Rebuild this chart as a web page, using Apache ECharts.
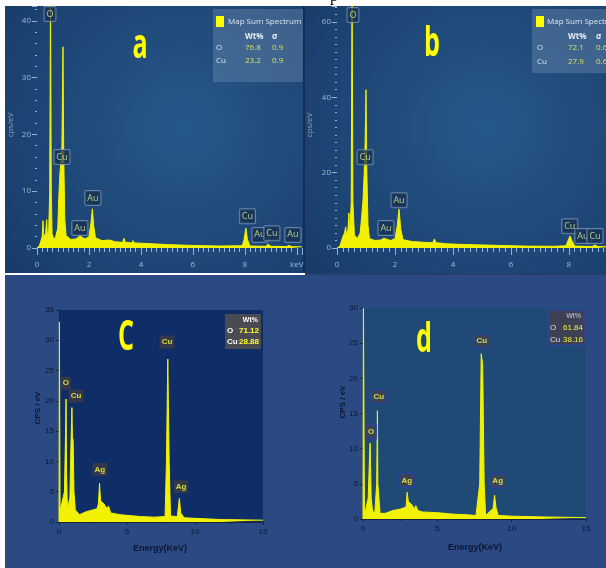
<!DOCTYPE html>
<html><head><meta charset="utf-8">
<script src="https://cdn.jsdelivr.net/npm/echarts@6/dist/echarts.min.js"></script>
<style>html,body{margin:0;padding:0;background:#fff}#c{width:606px;height:568px}</style>
</head><body><div id="c"></div>
<script>
// ---- spectra: [energy keV, counts] ----
const specA = [[0,0],[0.1,0.5],[0.2,2],[0.23,4.8],[0.26,2],[0.33,2.5],[0.37,5],[0.4,2],[0.45,3],[0.49,10],[0.52,45],[0.55,10],[0.58,2.5],[0.65,1.5],[0.72,2],[0.8,3.5],[0.84,9],[0.88,13],[0.92,15],[0.96,18],[1.0,35.4],[1.03,16],[1.07,5],[1.12,2.2],[1.3,1.5],[1.5,1.6],[1.65,2.1],[1.72,2.0],[1.85,1.6],[2.0,2.0],[2.08,4.5],[2.13,6.9],[2.18,4],[2.25,1.8],[2.5,1.3],[2.8,1.4],[3.0,1.1],[3.3,1.0],[3.35,1.7],[3.4,1.0],[3.65,0.9],[3.7,1.3],[3.75,0.9],[4.2,0.8],[5,0.6],[6,0.45],[7,0.35],[7.9,0.4],[7.97,1.5],[8.04,3.5],[8.1,1.5],[8.2,0.35],[8.8,0.3],[8.9,0.65],[9.0,0.3],[9.6,0.25],[9.7,0.45],[9.8,0.25],[10.2,0.2]];
const specB = [[0,0],[0.1,0.5],[0.2,3],[0.26,4],[0.3,5.6],[0.33,3],[0.38,5],[0.41,9.3],[0.44,4],[0.49,12],[0.52,70],[0.55,12],[0.6,3.5],[0.7,2.5],[0.8,4],[0.86,9],[0.9,13],[0.94,20],[0.97,28],[1.0,42],[1.03,20],[1.07,6],[1.12,2.5],[1.3,2.0],[1.5,2.1],[1.62,2.6],[1.7,2.4],[1.85,2.0],[2.0,2.5],[2.08,6],[2.14,10.3],[2.2,5],[2.28,2.2],[2.6,1.7],[3.0,1.5],[3.3,1.4],[3.36,2.4],[3.42,1.4],[3.7,1.2],[3.75,1.6],[3.8,1.1],[4.5,0.9],[5.5,0.7],[6.5,0.5],[7.5,0.45],[7.9,0.6],[7.97,2],[8.04,3.2],[8.1,2],[8.2,0.5],[8.8,0.4],[8.9,0.8],[9.0,0.4],[9.3,0.3]];
const specC = [[0,0],[0.03,33],[0.08,2],[0.2,3],[0.3,4],[0.4,5],[0.46,12],[0.52,20.3],[0.56,8],[0.62,2],[0.7,3],[0.8,4],[0.88,13],[0.95,18.9],[0.99,14],[1.04,13.5],[1.1,5],[1.2,2],[1.5,1.2],[2.0,1.7],[2.5,2.0],[2.8,2.2],[2.9,3],[2.98,6.4],[3.06,3.5],[3.3,3],[3.5,2.3],[3.65,2.6],[3.8,1.5],[4.5,1.2],[5,1.1],[6,0.9],[7,0.8],[7.8,0.9],[7.9,10],[8.0,26.9],[8.1,10],[8.2,1],[8.7,0.9],[8.85,3.9],[8.95,1.5],[9.2,0.7],[10,0.6],[12,0.4],[15,0.3]];
const specD = [[0,0],[0.03,30],[0.1,0.5],[0.2,1.5],[0.35,3],[0.44,9],[0.48,10.8],[0.55,3],[0.65,1],[0.8,1],[0.92,5],[0.97,15.4],[1.0,5],[1.05,4.8],[1.15,0.8],[1.5,0.8],[2,1.2],[2.5,1.4],[2.9,1.7],[2.97,3.8],[3.05,2.5],[3.3,2],[3.45,1.4],[3.55,1.9],[3.7,1.2],[4,1],[5,0.9],[6,0.7],[7,0.6],[7.6,0.5],[7.85,5],[7.95,23.5],[8.05,22],[8.15,5],[8.25,0.5],[8.75,1.5],[8.85,3.4],[8.95,1.6],[9.1,0.5],[10,0.4],[12,0.3],[15,0.2]];
// ---- element labels: [name, keV, y] ----
const peaksA = [['O',0.5,41.2],['Cu',0.96,16.0],['Au',1.65,3.5],['Au',2.15,8.8],['Cu',8.1,5.6],['Au',8.58,2.3],['Cu',9.04,2.6],['Au',9.85,2.3]];
const peaksB = [['O',0.55,61.8],['Cu',0.97,24.1],['Au',1.69,5.3],['Au',2.14,12.7],['Cu',8.03,5.8],['Au',8.48,3.2],['Cu',8.9,3.2]];
const peaksC = [['O',0.51,22.9],['Cu',1.25,20.8],['Cu',7.94,29.7],['Ag',3.0,8.7],['Ag',8.97,5.8]];
const peaksD = [['Cu',7.99,25.3],['Cu',1.07,17.4],['O',0.54,12.4],['Ag',2.95,5.5],['Ag',9.06,5.4]];
// ---- quantification tables ----
const wtA = [['O','76.8','0.9'],['Cu','23.2','0.9']];
const wtB = [['O','72.1','0.6'],['Cu','27.9','0.6']];
const wtC = [['O','71.12'],['Cu','28.88']];
const wtD = [['O','61.84'],['Cu','38.16']];

const chart = echarts.init(document.getElementById('c'), null, {renderer:'canvas'});
const Y = '#f2f200';
const abTick = '#8fb5da', abLbl = '#9fb9d6';
const dark = '#0c1634';

function specSeries(i, data){
  return {type:'line', xAxisIndex:i, yAxisIndex:i, data:data, symbol:'none', showSymbol:false,
    lineStyle:{color:Y,width:1}, areaStyle:{color:Y,opacity:1}, silent:true, z:3};
}
function peakSeries(i, arr, lbl){
  return {type:'scatter', xAxisIndex:i, yAxisIndex:i, symbolSize:1, itemStyle:{color:'rgba(0,0,0,0)'},
    data: arr.map(p=>({name:p[0], value:[p[1],p[2]]})), silent:true, z:10,
    label:Object.assign({show:true, position:'inside', formatter:'{b}'}, lbl)};
}
const abPeakLbl = {color:'#e6ec90', fontSize:9, fontFamily:'Open Sans', backgroundColor:'rgba(22,48,82,0.92)', borderColor:'#7592b4', borderWidth:1, borderRadius:1, padding:[3,2,2,2]};
const cPeakLbl = {color:'#ffff30', fontSize:8, fontWeight:'bold', fontFamily:'Liberation Sans', backgroundColor:'#3c3c44', padding:[3,2,2,2]};
const dPeakLbl = {color:'#ffff40', fontSize:8, fontWeight:'bold', fontFamily:'Liberation Sans', backgroundColor:'#40424e', borderColor:'#2442c0', borderWidth:1, padding:[3,2,2,2]};

function abX(i,max){
  return {gridIndex:i, type:'value', min:0, max:max, interval:2, offset:2,
    axisLine:{show:false}, splitLine:{show:false},
    axisTick:{show:true, length:7, lineStyle:{color:abTick,width:1}},
    minorTick:{show:true, splitNumber:10, length:4, lineStyle:{color:abTick,width:1}},
    axisLabel:{color:abLbl, fontSize:8, fontFamily:'Open Sans', margin:11, showMaxLabel:false,
      formatter:v=> (Math.abs(v-10)<1e-6 ? 'keV' : (Math.abs(v%2)<1e-6 ? String(v) : ''))}};
}
function abY(i,max,interval,split){
  return {gridIndex:i, type:'value', min:0, max:max, interval:interval, offset:4,
    axisLine:{show:false}, splitLine:{show:false},
    axisTick:{show:true, length:5, lineStyle:{color:abTick,width:1}},
    minorTick:{show:true, splitNumber:split, length:2, lineStyle:{color:abTick,width:1}},
    axisLabel:{color:abLbl, fontSize:8, fontFamily:'Open Sans', margin:2, showMaxLabel:false,
      formatter:v=> (Math.abs(v%interval)<1e-6 ? String(v) : '')}};
}
function cdX(i){
  return {gridIndex:i, type:'value', min:0, max:15, interval:5,
    axisLine:{show:true, lineStyle:{color:'#1a2340',width:1}}, splitLine:{show:false},
    axisTick:{show:true, length:3, lineStyle:{color:'#1a2340'}},
    minorTick:{show:true, splitNumber:2, length:2, lineStyle:{color:'#1a2340'}},
    axisLabel:{color:dark, fontSize:8, fontFamily:'Liberation Sans', margin:6}};
}
function cdY(i,max){
  return {gridIndex:i, type:'value', min:0, max:max, interval:5,
    axisLine:{show:true, lineStyle:{color:'#1a2340',width:1}}, splitLine:{show:false},
    axisTick:{show:true, length:3, lineStyle:{color:'#1a2340'}},
    axisLabel:{color:dark, fontSize:8, fontFamily:'Liberation Sans', margin:5}};
}

function txt(x,y,t,o){ return {type:'text', x:x, y:y, z:100, style:Object.assign({text:t, fill:'#fff', fontSize:8, fontFamily:'Open Sans', textVerticalAlign:'middle'}, o||{})}; }

const panelGrad = () => new echarts.graphic.RadialGradient(0.6,0.45,0.85,[{offset:0,color:'#27588a'},{offset:1,color:'#183c6a'}]);

const g = [];
g.push({type:'rect', z:-100, shape:{x:5,y:6,width:298,height:267}, style:{fill:panelGrad()}});
g.push({type:'rect', z:-100, shape:{x:305,y:6,width:301,height:267}, style:{fill:panelGrad()}});
g.push({type:'rect', z:-100, shape:{x:303,y:6,width:2,height:267}, style:{fill:'#142c50'}});
g.push({type:'rect', z:-100, shape:{x:5,y:275,width:601,height:293}, style:{fill:'#2b4a84'}});
g.push({type:'rect', z:-100, shape:{x:305,y:273,width:301,height:2}, style:{fill:'#21406e'}});
g.push({type:'text', x:330, y:-11, z:100, style:{text:'p', fontSize:16, fontFamily:'Liberation Serif', fill:'#000'}});
// legend a
g.push({type:'rect', z:50, shape:{x:213,y:9,width:90,height:73}, style:{fill:'rgba(130,160,190,0.32)'}});
g.push({type:'rect', z:100, shape:{x:216,y:16,width:8,height:11}, style:{fill:'#ffff00'}});
g.push(txt(228,22,'Map Sum Spectrum',{fill:'#dde6f0',fontSize:8}));
g.push(txt(245,37,'Wt%',{fill:'#e8eef6',fontWeight:'bold'}));
g.push(txt(272,37,'σ',{fill:'#e8eef6',fontWeight:'bold'}));
wtA.forEach((r,k)=>{ const y=48+k*13; g.push(txt(216,y,r[0],{fill:'#dde6f0'})); g.push(txt(245,y,r[1],{fill:'#d9e25a'})); g.push(txt(272,y,r[2],{fill:'#d9e25a'})); });
// legend b
g.push({type:'rect', z:50, shape:{x:532,y:9,width:74,height:64}, style:{fill:'rgba(130,160,190,0.32)'}});
g.push({type:'rect', z:100, shape:{x:536,y:16,width:8,height:11}, style:{fill:'#ffff00'}});
g.push(txt(547,22,'Map Sum Spectrum',{fill:'#dde6f0',fontSize:8}));
g.push(txt(568,37,'Wt%',{fill:'#e8eef6',fontWeight:'bold'}));
g.push(txt(596,37,'σ',{fill:'#e8eef6',fontWeight:'bold'}));
wtB.forEach((r,k)=>{ const y=48+k*14; g.push(txt(537,y,r[0],{fill:'#dde6f0'})); g.push(txt(568,y,r[1],{fill:'#d9e25a'})); g.push(txt(596,y,r[2],{fill:'#d9e25a'})); });
// legend c
g.push({type:'rect', z:50, shape:{x:225,y:314,width:36,height:35}, style:{fill:'#4a4a52'}});
g.push(txt(258,320,'Wt%',{fill:'#ffffff',fontWeight:'bold',fontSize:7,textAlign:'right',fontFamily:'Liberation Sans'}));
wtC.forEach((r,k)=>{ const y=331+k*11; g.push(txt(227,y,r[0],{fill:'#ffffff',fontWeight:'bold',fontFamily:'Liberation Sans'})); g.push(txt(239,y,r[1],{fill:'#ffff30',fontWeight:'bold',fontFamily:'Liberation Sans'})); });
// legend d
g.push({type:'rect', z:50, shape:{x:548,y:310,width:37,height:35}, style:{fill:'#3e4056',stroke:'#2b45b0',lineWidth:1}});
g.push(txt(581,316,'Wt%',{fill:'#d0d0d8',fontSize:7,textAlign:'right',fontFamily:'Liberation Sans'}));
wtD.forEach((r,k)=>{ const y=328+k*12; g.push(txt(550,y,r[0],{fill:'#e0e0e8',fontFamily:'Liberation Sans'})); g.push(txt(563,y,r[1],{fill:'#f0f040',fontFamily:'Liberation Sans'})); });
// big letters
const big = (x,y,t)=>({type:'text', x:x, y:y, scaleX:0.6, z:100, style:{text:t, fill:'#ffff00', fontSize:42, fontWeight:'bold', fontFamily:'Open Sans', textAlign:'center', textVerticalAlign:'middle'}});
g.push(big(140,46,'a'));
g.push(big(432,44,'b'));
g.push(big(126,338,'C'));
g.push(big(424,340,'d'));
// axis titles
g.push({type:'text', x:11, y:125, rotation:Math.PI/2, z:100, style:{text:'cps/eV', fill:'#8aa4c2', fontSize:8, fontFamily:'Open Sans', textAlign:'center', textVerticalAlign:'middle'}});
g.push({type:'text', x:310, y:125, rotation:Math.PI/2, z:100, style:{text:'cps/eV', fill:'#8aa4c2', fontSize:8, fontFamily:'Open Sans', textAlign:'center', textVerticalAlign:'middle'}});
g.push({type:'text', x:38, y:408, rotation:Math.PI/2, z:100, style:{text:'CPS / eV', fill:dark, fontSize:8, fontWeight:'bold', fontFamily:'Liberation Sans', textAlign:'center', textVerticalAlign:'middle'}});
g.push({type:'text', x:343, y:402, rotation:Math.PI/2, z:100, style:{text:'CPS / eV', fill:dark, fontSize:8, fontWeight:'bold', fontFamily:'Liberation Sans', textAlign:'center', textVerticalAlign:'middle'}});
g.push({type:'text', x:160, y:549, z:100, style:{text:'Energy(KeV)', fill:dark, fontSize:9, fontWeight:'bold', fontFamily:'Liberation Sans', textAlign:'center', textVerticalAlign:'middle'}});
g.push({type:'text', x:475, y:548, z:100, style:{text:'Energy(KeV)', fill:dark, fontSize:9, fontWeight:'bold', fontFamily:'Liberation Sans', textAlign:'center', textVerticalAlign:'middle'}});

const option = {
  animation:false,
  backgroundColor:'#ffffff',
  grid:[
    {left:37, top:6, width:265, height:242, show:false},
    {left:337, top:6, width:269, height:242, show:false},
    {left:59, top:310, width:204, height:212, show:true, backgroundColor:'#0f2e68', borderWidth:0},
    {left:363, top:308, width:223, height:211, show:true, backgroundColor:'#1f4a76', borderWidth:0}
  ],
  xAxis:[abX(0,10.2), abX(1,9.28), cdX(2), cdX(3)],
  yAxis:[abY(0,42.6,10,5), abY(1,64.2,20,10), cdY(2,35), cdY(3,30)],
  series:[
    specSeries(0,specA), specSeries(1,specB), specSeries(2,specC), specSeries(3,specD),
    peakSeries(0,peaksA,abPeakLbl), peakSeries(1,peaksB,abPeakLbl),
    peakSeries(2,peaksC,cPeakLbl), peakSeries(3,peaksD,dPeakLbl)
  ],
  graphic:g
};
chart.setOption(option);
</script></body></html>
